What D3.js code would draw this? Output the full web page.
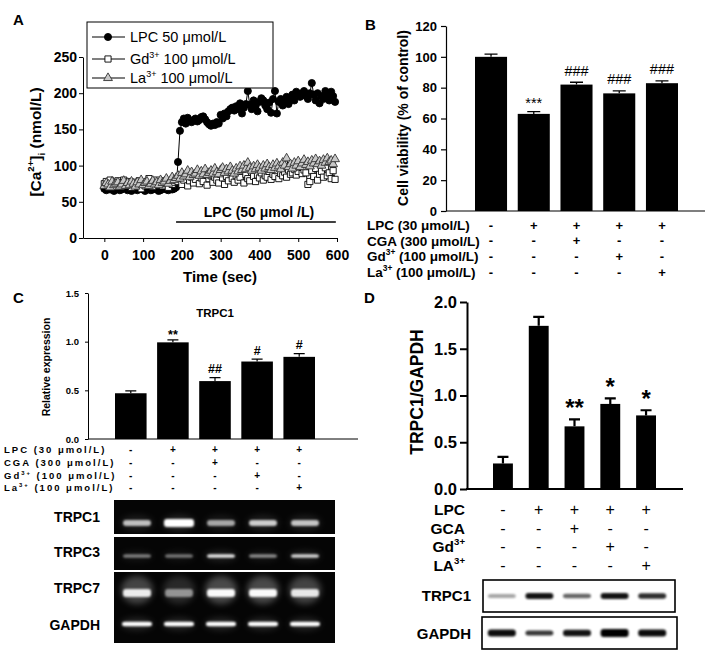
<!DOCTYPE html>
<html><head><meta charset="utf-8">
<script src="https://cdn.jsdelivr.net/npm/d3@7"></script>
<style>body{margin:0;background:#fff}svg{display:block}</style>
</head><body><svg id="c" width="719" height="662"></svg>
<script>
// ---------- DATA ----------
const timesA = [0,5,10,15,20,25,30,35,40,45,50,55,60,65,70,75,80,85,90,95,100,105,110,115,120,125,130,135,140,145,150,155,160,165,170,175,180,185,
190,195,200,205,210,215,220,225,230,235,240,245,250,255,260,265,270,275,280,285,290,295,300,305,310,315,320,325,330,335,340,345,350,355,360,365,370,375,380,385,390,395,400,405,410,415,420,425,430,435,440,445,450,455,460,465,470,475,480,485,490,495,500,505,510,515,520,525,530,535,540,545,550,555,560,565,570,575,580,585,590,595];
const lpcA = [68,66,70,67,69,65,68,70,66,67,69,71,66,68,65,67,70,66,68,69,67,65,68,70,66,67,69,68,65,66,68,70,67,66,69,67,68,70,
105,148,160,165,158,166,162,160,163,165,161,163,167,168,164,160,157,155,158,156,160,158,170,165,172,168,175,178,180,176,
182,178,186,172,180,185,203,184,178,190,182,175,188,193,190,183,178,187,173,192,203,172,188,192,183,190,195,185,192,198,
190,202,199,195,200,203,196,192,200,214,198,190,200,186,196,192,203,198,190,202,196,188];
const gdA = [75,78,72,80,74,77,71,79,73,76,80,72,75,78,70,74,77,73,79,68,75,72,78,82,74,71,77,80,73,76,72,79,75,70,78,74,77,80,
78,82,74,80,86,72,79,84,76,81,88,75,83,78,90,73,82,86,77,84,80,76,88,83,74,85,79,90,82,77,
86,80,84,92,76,88,82,79,91,85,78,87,83,90,80,86,84,92,81,88,85,93,82,89,86,91,84,94,88,90,
95,87,92,98,89,94,90,74,78,93,85,96,80,88,92,84,97,86,90,82,93,81];
const laA = [72,76,74,70,78,73,75,77,71,74,79,72,76,73,78,75,71,77,74,80,73,76,78,72,75,79,74,77,73,80,76,78,82,75,79,84,80,83,
86,82,90,85,88,93,84,91,87,89,94,86,92,88,95,87,90,93,89,96,91,88,94,97,90,95,92,98,93,89,
96,92,99,94,100,95,104,97,93,99,95,101,97,93,100,96,102,98,94,101,97,103,99,95,104,100,110,98,102,96,
104,100,106,98,103,108,101,105,99,107,103,109,102,106,100,108,104,110,105,107,102,109];
const xTicksA = [0,100,200,300,400,500,600];
const yTicksA = [0,50,100,150,200,250];

const groups = ["Control","LPC","LPC+CGA","LPC+Gd","LPC+La"];
const viabB = [100, 63, 82, 76.3, 82.9];
const viabErrB = [1.7, 1.5, 1.5, 1.6, 1.5];
const annB = ["", "***", "###", "###", "###"];
const yTicksB = [0,20,40,60,80,100,120];

const relC = [0.47, 0.993, 0.595, 0.796, 0.844];
const relErrC = [0.025, 0.025, 0.035, 0.025, 0.033];
const annC = ["", "**", "##", "#", "#"];
const yTicksC = [0, 0.5, 1.0, 1.5];

const ratioD = [0.273, 1.745, 0.67, 0.91, 0.787];
const ratioErrD = [0.07, 0.095, 0.075, 0.06, 0.055];
const annD = ["", "", "**", "*", "*"];
const yTicksD = [0, 0.5, 1.0, 1.5, 2.0];

const signLPC = ["-","+","+","+","+"];
const signCGA = ["-","-","+","-","-"];
const signGd  = ["-","-","-","+","-"];
const signLa  = ["-","-","-","-","+"];

const gelRows = ["TRPC1","TRPC3","TRPC7","GAPDH"];
const gelTRPC1 = [0.72, 1.0, 0.62, 0.78, 0.74];
const gelTRPC3 = [0.45, 0.42, 0.88, 0.5, 0.8];
const gelTRPC7 = [0.9, 0.5, 0.97, 0.97, 0.88];
const gelGAPDH = [1, 1, 1, 1, 1];
const wbRows = ["TRPC1","GAPDH"];
const wbTRPC1 = [0.35, 0.92, 0.6, 0.92, 0.82];
const wbGAPDH = [0.95, 0.78, 0.92, 1.0, 0.95];

// ---------- HELPERS ----------
const FONT = '"Liberation Sans", Arial, Helvetica, sans-serif';
const svg = d3.select("#c").attr("font-family", FONT);

function rich(t, parts, size){
  let off = 0;
  parts.forEach(p=>{
    const ts = t.append("tspan").text(p.t);
    const target = p.sup ? -size*0.42 : p.sub ? size*0.28 : 0;
    if(p.sup || p.sub) ts.attr("font-size", size*0.62);
    if(target !== off){ ts.attr("dy", target - off); off = target; }
  });
  return t;
}
function styleAxis(g, fs, sw){
  g.attr("font-family", FONT).attr("font-size", fs).attr("font-weight","bold");
  g.selectAll("text").attr("fill","#000");
  g.selectAll("path,line").attr("stroke","#000").attr("stroke-width", sw);
}
function label(x,y,t,fs,opt={}){
  const el = svg.append("text").attr("x",x).attr("y",y).attr("font-size",fs)
    .attr("font-weight", opt.weight||"bold").attr("text-anchor", opt.anchor||"start");
  if(opt.ls) el.attr("letter-spacing", opt.ls);
  if(opt.rot) el.attr("transform", `rotate(${opt.rot},${x},${y})`);
  if(Array.isArray(t)) rich(el, t, fs); else el.text(t);
  return el;
}
function bars(g, xs, ys, vals, errs, capW, sw){
  g.selectAll(null).data(vals).join("rect")
    .attr("x",(d,i)=>xs(groups[i])).attr("width", xs.bandwidth())
    .attr("y", d=>ys(d)).attr("height", d=>ys(0)-ys(d)).attr("fill","#000");
  g.selectAll(null).data(vals).join("path")
    .attr("d",(d,i)=>{const cx=xs(groups[i])+xs.bandwidth()/2, yt=ys(d+errs[i]);
      return `M${cx},${ys(d)}V${yt}M${cx-capW/2},${yt}H${cx+capW/2}`;})
    .attr("stroke","#000").attr("stroke-width", sw).attr("fill","none");
}
function annots(g, xs, ys, vals, errs, ann, fs, dyOff, weight, family){
  g.selectAll(null).data(ann).join("text")
    .attr("x",(d,i)=>xs(groups[i])+xs.bandwidth()/2)
    .attr("y",(d,i)=>ys(vals[i]+errs[i]) - dyOff(d))
    .attr("text-anchor","middle").attr("font-size",fs).attr("font-weight",weight)
    .attr("font-family", family||FONT).text(d=>d);
}
function signRows(xs, rows, yRows, fs, weight){
  rows.forEach((r,ri)=>{
    svg.append("g").selectAll(null).data(r).join("text")
      .attr("x",(d,i)=>xs(groups[i])+xs.bandwidth()/2).attr("y", yRows[ri])
      .attr("text-anchor","middle").attr("dominant-baseline","central")
      .attr("font-size",fs).attr("font-weight",weight).text(d=>d);
  });
}

// blur filters
const defs = svg.append("defs");
defs.append("filter").attr("id","blur1").attr("x","-50%").attr("y","-100%").attr("width","200%").attr("height","300%")
  .append("feGaussianBlur").attr("stdDeviation",1.1);
defs.append("filter").attr("id","blur3").attr("x","-50%").attr("y","-100%").attr("width","200%").attr("height","300%")
  .append("feGaussianBlur").attr("stdDeviation",3);

// ---------- PANEL A ----------
const xA = d3.scaleLinear().domain([-55,600]).range([83,337]);
const yA = d3.scaleLinear().domain([0,250]).range([238,57]);
const gA = svg.append("g");
styleAxis(gA.append("g").attr("transform","translate(83,0)")
  .call(d3.axisLeft(yA).tickValues(yTicksA).tickSize(4).tickPadding(2).tickSizeOuter(0)), 14, 1);
styleAxis(gA.append("g").attr("transform","translate(0,238)")
  .call(d3.axisBottom(xA).tickValues(xTicksA).tickSize(4).tickPadding(8).tickSizeOuter(0)), 14, 1);

const seriesA = [
  {vals: lpcA, sym: d3.symbolCircle, size: 40, fill:"#000", stroke:"#000"},
  {vals: gdA, sym: d3.symbolSquare, size: 38, fill:"#fff", stroke:"#000"},
  {vals: laA, sym: d3.symbolTriangle, size: 34, fill:"#c8c8c8", stroke:"#333"}
];
const lineA = d3.line().x(d=>xA(d[0])).y(d=>yA(d[1]));
seriesA.forEach(s=>{
  const pts = timesA.map((t,i)=>[t, s.vals[i]]);
  gA.append("path").datum(pts).attr("d", lineA).attr("fill","none").attr("stroke","#000").attr("stroke-width",1);
  gA.append("g").selectAll(null).data(pts).join("path")
    .attr("transform", d=>`translate(${xA(d[0])},${yA(d[1])})`)
    .attr("d", d3.symbol(s.sym, s.size)).attr("fill", s.fill).attr("stroke", s.stroke).attr("stroke-width",0.9);
});
gA.append("line").attr("x1",xA(185)).attr("x2",xA(597)).attr("y1",222).attr("y2",222).attr("stroke","#000").attr("stroke-width",1.3);
label(259,217,"LPC (50 μmol /L)",14,{anchor:"middle"});
label(220,282,"Time (sec)",15,{anchor:"middle"});
label(41,142,[{t:"[Ca"},{t:"2+",sup:true},{t:"]"},{t:"i",sub:true},{t:" (nmol/L)"}],15.5,{anchor:"middle",rot:-90});
gA.append("rect").attr("x",87).attr("y",22).attr("width",186).attr("height",66).attr("fill","#fff").attr("stroke","#000").attr("stroke-width",1);
const legA = [
  [{t:"LPC 50 μmol/L"}],
  [{t:"Gd"},{t:"3+",sup:true},{t:" 100 μmol/L"}],
  [{t:"La"},{t:"3+",sup:true},{t:" 100 μmol/L"}]
];
const legY = [37, 59, 78];
seriesA.forEach((s,i)=>{
  gA.append("line").attr("x1",92).attr("x2",125).attr("y1",legY[i]).attr("y2",legY[i]).attr("stroke","#000");
  gA.append("path").attr("transform",`translate(108,${legY[i]})`).attr("d", d3.symbol(s.sym, s.size))
    .attr("fill",s.fill).attr("stroke",s.stroke).attr("stroke-width",0.9);
  label(130, legY[i]+5, legA[i], 14.5, {weight:"normal"});
});
label(13,25,"A",15);

// ---------- PANEL B ----------
const xB = d3.scaleBand().domain(groups).range([475,678]).paddingInner(0.25).paddingOuter(0);
const yB = d3.scaleLinear().domain([0,120]).range([211,26]);
const gB = svg.append("g");
styleAxis(gB.append("g").attr("transform","translate(446,0)")
  .call(d3.axisLeft(yB).tickValues(yTicksB).tickSize(5).tickPadding(4).tickSizeOuter(0)), 13, 1.2);
gB.append("line").attr("x1",446).attr("x2",705).attr("y1",211).attr("y2",211).attr("stroke","#000").attr("stroke-width",1.2);
bars(gB, xB, yB, viabB, viabErrB, 13, 1.3);
annots(gB, xB, yB, viabB, viabErrB, annB, 14.5, d=>d.startsWith("#")?6.5:4, "normal");
label(408,118,"Cell viability (% of control)",14,{anchor:"middle",rot:-90});
const rowsBlabels = [
  [{t:"LPC (30 μmol/L)"}],
  [{t:"CGA (300 μmol/L)"}],
  [{t:"Gd"},{t:"3+",sup:true},{t:" (100 μmol/L)"}],
  [{t:"La"},{t:"3+",sup:true},{t:" (100 μmol/L)"}]
];
const rowsBY = [225,240.5,256,272];
rowsBlabels.forEach((l,i)=>label(367,rowsBY[i]+5,l,13.5));
signRows(xB,[signLPC,signCGA,signGd,signLa],rowsBY,13,"bold");
label(365,30,"B",15);

// ---------- PANEL C ----------
const xC = d3.scaleBand().domain(groups).range([115,315]).paddingInner(0.25).paddingOuter(0);
const yC = d3.scaleLinear().domain([0,1.5]).range([439,293]);
const gC = svg.append("g");
styleAxis(gC.append("g").attr("transform","translate(88,0)")
  .call(d3.axisLeft(yC).tickValues(yTicksC).tickFormat(d3.format(".1f")).tickSize(3).tickPadding(6).tickSizeOuter(0)), 9.5, 1);
gC.append("line").attr("x1",88).attr("x2",358).attr("y1",439).attr("y2",439).attr("stroke","#000").attr("stroke-width",1);
bars(gC, xC, yC, relC, relErrC, 11, 1.2);
annots(gC, xC, yC, relC, relErrC, annC, 12.5, d=>d.startsWith("#")?4.2:1, "bold");
label(215,317,"TRPC1",11.5,{anchor:"middle"});
label(50,367,"Relative expression",10.5,{anchor:"middle",rot:-90});
const rowsCY = [449.5,462.5,475,487.5];
rowsBlabels.forEach((l,i)=>label(4,rowsCY[i]+3.5,l,9.5,{ls:2}));
signRows(xC,[signLPC,signCGA,signGd,signLa],rowsCY,10,"bold");
label(13,303,"C",15);

// gel (ethidium bromide style)
const xGel = d3.scaleBand().domain(groups).range([116,326]);
const gelData = [gelTRPC1, gelTRPC3, gelTRPC7, gelGAPDH];
const gelBoxes = [[114,500,221,34],[114,537,221,33],[114,572,221,34],[114,605,221,38]];
const gelBandY = [523, 556, 593, 624];
const gelBandH = [6, 3.5, 8, 4.5];
gelBoxes.forEach(b=>svg.append("rect").attr("x",b[0]).attr("y",b[1]).attr("width",b[2]).attr("height",b[3]).attr("fill","#050505"));
gelData.forEach((arr,ri)=>{
  const g = svg.append("g");
  g.selectAll(null).data(arr).join("ellipse")
    .attr("cx",(d,i)=>xGel(groups[i])+xGel.bandwidth()/2).attr("cy", gelBandY[ri]-(ri===2?3:0))
    .attr("rx",16).attr("ry", gelBandH[ri]+ (ri===2?6:2)).attr("fill","#fff")
    .attr("opacity", d=>d*(ri===2?0.28:0.12)).attr("filter","url(#blur3)");
  g.selectAll(null).data(arr).join("rect")
    .attr("x",(d,i)=>xGel(groups[i])+xGel.bandwidth()/2 - (ri===3?15:14) - (ri===0&&i===1?1:0))
    .attr("y",(d,i)=>gelBandY[ri]-gelBandH[ri]/2 - (ri===0&&i===1?1:0))
    .attr("width",(d,i)=>(ri===3?30:28)+(ri===0&&i===1?2:0))
    .attr("height",(d,i)=>gelBandH[ri]+(ri===0&&i===1?2:0))
    .attr("rx",3).attr("fill","#fff").attr("opacity",d=>d).attr("filter","url(#blur1)");
});
gelRows.forEach((r,i)=>label(100,[522,557,593,630][i],r,14,{anchor:"end"}));

// ---------- PANEL D ----------
const xD = d3.scaleBand().domain(groups).range([493,656]).paddingInner(0.444).paddingOuter(0);
const yD = d3.scaleLinear().domain([0,2]).range([489,302]);
const gD = svg.append("g");
styleAxis(gD.append("g").attr("transform","translate(467,0)")
  .call(d3.axisLeft(yD).tickValues(yTicksD).tickFormat(d3.format(".1f")).tickSize(7).tickPadding(3).tickSizeOuter(0)), 16.5, 2);
gD.append("line").attr("x1",466).attr("x2",683).attr("y1",489).attr("y2",489).attr("stroke","#000").attr("stroke-width",2);
bars(gD, xD, yD, ratioD, ratioErrD, 11, 2.2);
annots(gD, xD, yD, ratioD, ratioErrD, annD, 24, d=>3, "bold");
label(423,392,"TRPC1/GAPDH",17.5,{anchor:"middle",rot:-90});
const rowsDlabels = [
  [{t:"LPC"}],[{t:"GCA"}],
  [{t:"Gd"},{t:"3+",sup:true}],
  [{t:"LA"},{t:"3+",sup:true}]
];
const rowsDY = [509,528,546,565];
rowsDlabels.forEach((l,i)=>label(465,rowsDY[i]+5.5,l,15.5,{anchor:"end"}));
signRows(xD,[signLPC,signCGA,signGd,signLa],rowsDY,16,"normal");
label(364,303,"D",15);

// western blot
const xWB = d3.scaleBand().domain(groups).range([483,671]);
const wbData = [wbTRPC1, wbGAPDH];
const wbBoxes = [[483,580,192,32],[482,617,195,32]];
const wbBandY = [596, 633];
const wbBandH = [[4,6,4.5,6,5.5],[7,5,6.5,8,7]];
wbBoxes.forEach(b=>svg.append("rect").attr("x",b[0]).attr("y",b[1]).attr("width",b[2]).attr("height",b[3])
  .attr("fill","#fff").attr("stroke","#000").attr("stroke-width",1.6));
wbData.forEach((arr,ri)=>{
  svg.append("g").selectAll(null).data(arr).join("rect")
    .attr("x",(d,i)=>xWB(groups[i])+xWB.bandwidth()/2-14).attr("width",28)
    .attr("y",(d,i)=>wbBandY[ri]-wbBandH[ri][i]/2).attr("height",(d,i)=>wbBandH[ri][i])
    .attr("rx",3).attr("fill","#000").attr("opacity",d=>d).attr("filter","url(#blur1)");
});
wbRows.forEach((r,i)=>label(471,[601,639][i],r,15,{anchor:"end"}));
</script></body></html>
